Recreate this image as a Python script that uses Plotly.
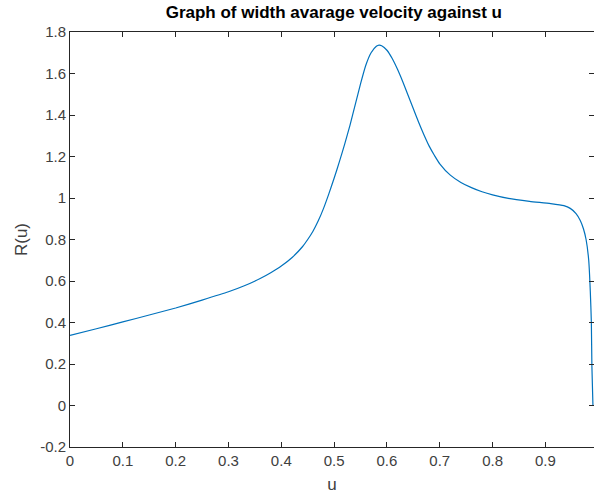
import plotly.graph_objects as go

u = [0.0, 0.05, 0.10, 0.15, 0.20, 0.25, 0.30, 0.33, 0.36, 0.38, 0.40, 0.42, 0.44, 0.45,
     0.46, 0.47, 0.48, 0.49, 0.50, 0.51, 0.52, 0.53, 0.54, 0.55, 0.56, 0.57, 0.58, 0.585,
     0.59, 0.60, 0.61, 0.62, 0.63, 0.64, 0.65, 0.66, 0.67, 0.68, 0.69, 0.70, 0.72, 0.74,
     0.76, 0.78, 0.80, 0.83, 0.87, 0.91, 0.935, 0.947, 0.958, 0.966, 0.972, 0.977, 0.982,
     0.985, 0.987, 0.988, 0.99]
R = [0.338, 0.37, 0.403, 0.436, 0.47, 0.508, 0.548, 0.577, 0.612, 0.64, 0.672, 0.712, 0.765, 0.80,
     0.84, 0.89, 0.95, 1.02, 1.095, 1.175, 1.26, 1.35, 1.45, 1.55, 1.64, 1.70, 1.731, 1.737,
     1.734, 1.712, 1.672, 1.62, 1.56, 1.495, 1.43, 1.365, 1.305, 1.25, 1.205, 1.165, 1.11, 1.075,
     1.05, 1.03, 1.015, 0.998, 0.984, 0.973, 0.963, 0.95, 0.925, 0.892, 0.852, 0.80, 0.70,
     0.55, 0.40, 0.19, 0.0]

x_ticks = [0, 0.1, 0.2, 0.3, 0.4, 0.5, 0.6, 0.7, 0.8, 0.9]
x_labels = ["0", "0.1", "0.2", "0.3", "0.4", "0.5", "0.6", "0.7", "0.8", "0.9"]
y_ticks = [-0.2, 0, 0.2, 0.4, 0.6, 0.8, 1.0, 1.2, 1.4, 1.6, 1.8]
y_labels = ["-0.2", "0", "0.2", "0.4", "0.6", "0.8", "1", "1.2", "1.4", "1.6", "1.8"]

fig = go.Figure()
fig.add_trace(go.Scatter(x=u, y=R, mode="lines",
                         line=dict(color="#0072BD", width=1.2, shape="spline", smoothing=0.6)))
# invisible trace to carry the right-hand tick marks
fig.add_trace(go.Scatter(x=[u[0]], y=[R[0]], yaxis="y2", mode="markers",
                         marker=dict(opacity=0), hoverinfo="skip"))

tickfont = dict(family="Liberation Sans, Arial", size=15, color="#404040")
common = dict(ticks="inside", ticklen=5, tickcolor="#262626", showgrid=False, zeroline=False)

fig.update_layout(
    width=594, height=500,
    margin=dict(l=70, r=0, t=32, b=53),
    plot_bgcolor="white", paper_bgcolor="white",
    showlegend=False,
    title=dict(text="<b>Graph of width avarage velocity against u</b>", x=0.562, xanchor="center",
               y=0.975, yanchor="middle",
               font=dict(family="Liberation Sans, Arial", size=17, color="black")),
    xaxis=dict(range=[0, 0.992], tickvals=x_ticks, ticktext=x_labels, tickfont=tickfont,
               showline=True, linecolor="#262626", linewidth=1, mirror="ticks",
               title=dict(text="u", font=dict(family="Liberation Sans, Arial", size=17, color="#404040"), standoff=10),
               **common),
    yaxis=dict(range=[-0.2, 1.8], tickvals=y_ticks, ticktext=y_labels, tickfont=tickfont,
               showline=True, linecolor="#262626", linewidth=1, mirror=False,
               title=dict(text="R(u)", font=dict(family="Liberation Sans, Arial", size=17, color="#404040"), standoff=8),
               **common),
    yaxis2=dict(range=[-0.2, 1.8], tickvals=y_ticks, overlaying="y", side="right",
                showticklabels=False, showline=False, **common),
)

fig.write_html("out.html")
